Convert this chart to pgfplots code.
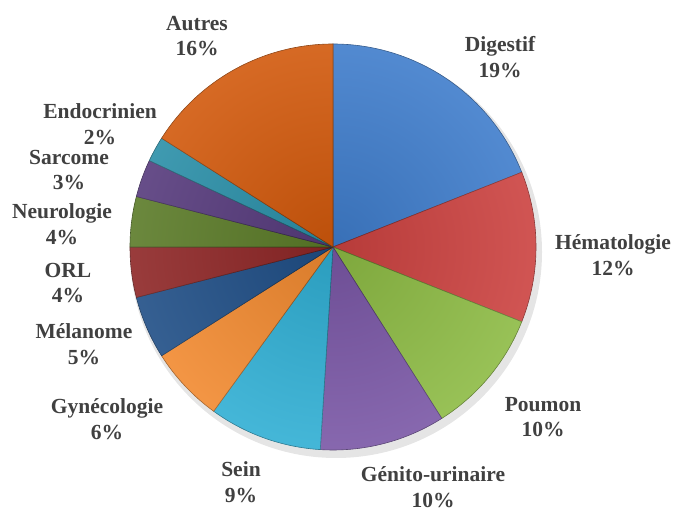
\documentclass[border=0pt]{standalone}
\usepackage{pgfplots}
\pgfplotsset{compat=1.18}
\usepackage{pgfplotstable}
\usepackage{fontspec}
\setmainfont{Liberation Serif}

\definecolor{cDig}{HTML}{3F7DCC}
\definecolor{cHem}{HTML}{CC4240}
\definecolor{cPou}{HTML}{8DBB44}
\definecolor{cGen}{HTML}{7A57A6}
\definecolor{cSei}{HTML}{30AFD4}
\definecolor{cGyn}{HTML}{F28A30}
\definecolor{cMel}{HTML}{1F4E86}
\definecolor{cORL}{HTML}{8E2626}
\definecolor{cNeu}{HTML}{5B7B28}
\definecolor{cSar}{HTML}{563A7C}
\definecolor{cEnd}{HTML}{2A8FA8}
\definecolor{cAut}{HTML}{D2590C}
\definecolor{txt}{HTML}{404040}

% value in %, label centre (axis units = pt, pie centre at 0,0)
\pgfplotstableread[col sep=comma]{
label,value,lx,ly,col
Digestif,19,167,190,cDig
Hématologie,12,280,-8,cHem
Poumon,10,210,-170,cPou
Génito-urinaire,10,100,-240,cGen
Sein,9,-92,-235,cSei
Gynécologie,6,-226,-172,cGyn
Mélanome,5,-249,-97,cMel
ORL,4,-265,-36,cORL
Neurologie,4,-271,23,cNeu
Sarcome,3,-264,77,cSar
Endocrinien,2,-233,123,cEnd
Autres,16,-136,211,cAut
}\piedata

\tikzset{lbl/.style={font=\fontsize{21.5}{25.5}\selectfont\bfseries, text=txt, align=center, inner sep=0pt}}

\begin{document}
\begin{tikzpicture}
\def\R{203}
\def\piecmds{}%
\def\angA{90}%
\pgfplotstablegetrowsof{\piedata}\pgfmathtruncatemacro\last{\pgfplotsretval-1}%
\pgfplotsforeachungrouped \i in {0,...,\last}{%
  \pgfplotstablegetelem{\i}{value}\of\piedata\let\v\pgfplotsretval
  \pgfplotstablegetelem{\i}{col}\of\piedata\let\c\pgfplotsretval
  \pgfplotstablegetelem{\i}{label}\of\piedata\let\lab\pgfplotsretval
  \pgfplotstablegetelem{\i}{lx}\of\piedata\let\lx\pgfplotsretval
  \pgfplotstablegetelem{\i}{ly}\of\piedata\let\ly\pgfplotsretval
  \pgfmathsetmacro\angB{\angA-3.6*\v}%
  \edef\piecmds{\unexpanded\expandafter{\piecmds}%
    \noexpand\fill[fill=\c, draw=\c!65!black, line width=0.6pt, line join=round]
      (axis cs:0,0) -- ++(\angA:\R pt) arc[start angle=\angA, end angle=\angB, radius=\R pt] -- cycle;
    \noexpand\node[lbl] at (axis cs:\lx,\ly) {\lab\noexpand\\\v\noexpand\%};
  }%
  \let\angA\angB
}%
\begin{axis}[
  hide axis, scale only axis, width=676pt, height=513pt,
  xmin=-333, xmax=343, ymin=-266, ymax=247, clip=false,
]
\path (axis cs:-333,-266) rectangle (axis cs:343,247);
\fill[black, opacity=0.10] (axis cs:3,-5) circle[radius=206pt];
\piecmds
\shade[inner color=black, outer color=white, opacity=0.10] (axis cs:0,0) circle[radius=\R pt];
\end{axis}
\end{tikzpicture}
\end{document}
